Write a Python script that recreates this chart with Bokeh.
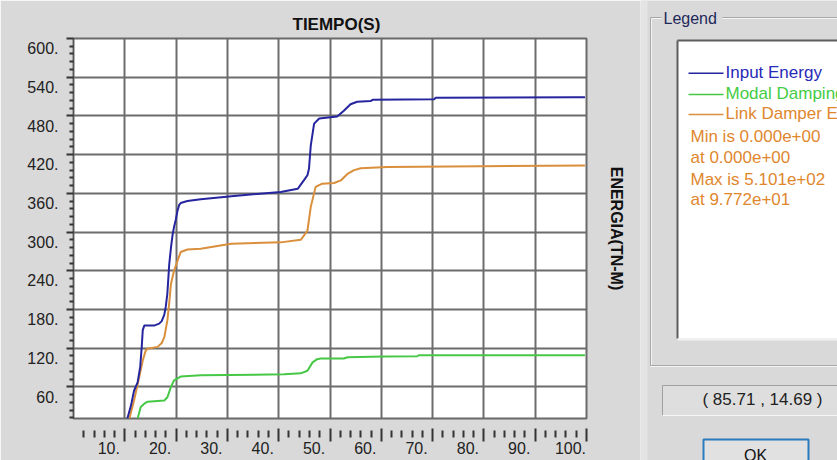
from bokeh.plotting import figure
from bokeh.models import FixedTicker, CustomJSTickFormatter, LinearAxis, Range1d
from bokeh.core.properties import value
from bokeh.embed import file_html
from bokeh.resources import INLINE

FONT = "Liberation Sans"
BG = "#d9d9d9"

# ---------------- data ----------------
series_names = ["Input Energy", "Modal Damping", "Link Damper Energy"]
series_colors = ["#25259f", "#46c846", "#d98f3c"]
legend_text_colors = ["#2a2ab8", "#44cc44", "#e0872e"]

t_input = [10.5, 11.2, 11.8, 12.5, 13.0, 13.3, 13.5, 13.8, 15.7, 16.7, 17.2, 17.7, 18.0, 18.3,
           18.66, 19.0, 19.3, 19.6, 19.96, 20.3, 20.6, 20.9, 22.2, 24.8, 31.3, 40.4, 43.7,
           44.9, 45.6, 45.9, 46.25, 46.9, 47.9, 51.4, 52.7, 54.0, 55.3, 57.9, 58.3, 70.3,
           70.6, 97.7, 99.7]
e_input = [11, 31, 54, 67, 91, 122, 148, 155, 155, 158, 162, 172, 185, 205,
           250, 276, 295, 308, 320, 334, 342, 345, 348, 351, 356, 362, 367,
           380, 388, 398, 434, 468, 476, 479, 488, 498, 502, 503, 505, 506,
           508, 509, 509]

t_modal = [12.5, 13.1, 13.8, 14.45, 17.7, 18.3, 19.0, 19.6, 20.9, 24.8, 41.05, 44.3,
           45.6, 46.6, 47.5, 48.2, 52.7, 53.4, 60.5, 67.0, 67.3, 99.7]
e_modal = [11, 29, 34, 37, 39, 44, 60, 70, 76, 78, 79.5, 81,
           85, 98, 103, 104, 104, 106, 107, 107.5, 109, 109]

t_link = [10.9, 11.8, 12.8, 13.5, 14.1, 14.45, 16.4, 17.2, 17.7, 18.3, 18.66, 19.0, 19.6,
          20.3, 20.9, 22.2, 24.8, 30.7, 40.4, 44.3, 45.6, 46.25, 47.2, 48.5, 50.8, 52.1,
          53.4, 54.7, 56.0, 61.2, 79.4, 99.7]
e_link = [11, 39, 75, 101, 117, 119, 122, 128, 137, 163, 190, 220, 240,
          256, 269, 273, 274, 282, 284, 288, 302, 339, 370, 375, 376, 380,
          390, 396, 399, 401, 402, 403]

x_ticks = [10, 20, 30, 40, 50, 60, 70, 80, 90, 100]
x_tick_labels = ["10.", "20.", "30.", "40.", "50.", "60.", "70.", "80.", "90.", "100."]
y_ticks = [60, 120, 180, 240, 300, 360, 420, 480, 540, 600]
y_tick_labels = ["60.", "120.", "180.", "240.", "300.", "360.", "420.", "480.", "540.", "600."]

x_minor = [v for v in range(2, 100, 2) if v % 10]
y_minor = [v for v in range(12, 600, 12) if v % 60]

title_text = "TIEMPO(S)"
ylabel_text = "ENERGIA(TN-M)"
legend_title = "Legend"
stats_lines = ["Min is 0.000e+00", "at 0.000e+00", "Max is 5.101e+02", "at 9.772e+01"]
cursor_text = "( 85.71 , 14.69 )"
button_text = "OK"

# ---------------- main chart ----------------
p = figure(width=640, height=460, x_range=Range1d(0, 100), y_range=Range1d(11, 600),
           output_backend="svg", toolbar_location=None,
           min_border_left=73, min_border_right=54, min_border_top=38, min_border_bottom=42,
           background_fill_color="white", border_fill_color=BG,
           outline_line_color="#6a6a6a", outline_line_width=2)

p.title.text = title_text
p.title.align = "left"
p.title.offset = 219
p.title.standoff = 10
p.title.text_font = FONT
p.title.text_font_size = "17px"
p.title.text_font_style = "bold"
p.title.text_color = "#111111"

p.grid.grid_line_color = "#6c6c6c"
p.grid.grid_line_width = 2

p.line(t_link, e_link, color=series_colors[2], line_width=2)
p.line(t_modal, e_modal, color=series_colors[1], line_width=2)
p.line(t_input, e_input, color=series_colors[0], line_width=2)

yax = p.yaxis[0]
yax.ticker = FixedTicker(ticks=y_ticks, minor_ticks=y_minor)
yax.formatter = CustomJSTickFormatter(
    args=dict(tk=y_ticks, lb=y_tick_labels),
    code="const i = tk.indexOf(tick); return i >= 0 ? '\\n' + lb[i] : '';")
yax.major_label_text_font = FONT
yax.major_label_text_font_size = "16px"
yax.major_label_text_color = "#222222"
yax.major_label_standoff = 8
yax.major_tick_in = 0
yax.major_tick_out = 7
yax.minor_tick_in = 0
yax.minor_tick_out = 4
yax.major_tick_line_color = "#333333"
yax.minor_tick_line_color = "#333333"
yax.major_tick_line_width = 2
yax.minor_tick_line_width = 2
yax.axis_line_color = "#555555"

xax = p.xaxis[0]
xax.ticker = FixedTicker(ticks=x_ticks, minor_ticks=x_minor)
xax.formatter = CustomJSTickFormatter(
    args=dict(tk=x_ticks, lb=x_tick_labels),
    code="const i = tk.indexOf(tick); return i >= 0 ? lb[i] + '\\u2003\\u2003' : '';")
xax.major_label_text_font = FONT
xax.major_label_text_font_size = "16px"
xax.major_label_text_color = "#222222"
xax.major_label_standoff = -2
xax.axis_line_color = None
xax.major_tick_in = -10
xax.major_tick_out = 23
xax.minor_tick_in = -12
xax.minor_tick_out = 19
xax.major_tick_line_color = "#333333"
xax.minor_tick_line_color = "#333333"
xax.major_tick_line_width = 2
xax.minor_tick_line_width = 2

rax = LinearAxis(ticker=FixedTicker(ticks=[]), axis_label=ylabel_text,
                 axis_label_text_font=FONT, axis_label_text_font_size="16px",
                 axis_label_text_font_style="bold", axis_label_text_color="#111111",
                 axis_label_standoff=21, axis_line_color=None,
                 major_tick_line_color=None, minor_tick_line_color=None,
                 major_tick_out=0, minor_tick_out=0, major_label_text_font_size="0px")
p.add_layout(rax, "right")

# ---------------- side panel (legend box, cursor box, button) ----------------
# separate root, placed at the right of the chart; its coordinates are window pixels
s = figure(width=197, height=460, x_range=Range1d(640, 837), y_range=Range1d(460, 0),
           x_axis_type=None, y_axis_type=None, output_backend="svg", toolbar_location=None,
           min_border=0, min_border_left=0, min_border_right=0, min_border_top=0,
           min_border_bottom=0, outline_line_color=None,
           background_fill_color=BG, border_fill_color=BG)
s.styles = {"position": "absolute", "left": "640px", "top": "0px"}

# lighter pane edge
s.quad(left=[640], right=[647], top=[0], bottom=[460], fill_color="#e4e4e4", line_color=None)

# group box (etched)
s.segment(x0=[650, 722, 650, 650], y0=[17, 17, 17, 365], x1=[661, 840, 650, 840], y1=[17, 17, 365, 365],
          line_color="#a8a8a8", line_width=1)
s.segment(x0=[651, 722, 651, 650], y0=[18, 18, 18, 366], x1=[661, 840, 651, 840], y1=[18, 18, 364, 366],
          line_color="#f4f4f4", line_width=1)
s.text(x=[663], y=[18], text=[legend_title], text_font=value(FONT), text_font_size=value("16px"),
       text_color="#1e2a5a", text_baseline="middle", text_align="left")

# legend inner white box (sunken)
s.quad(left=[677], right=[840], top=[40], bottom=[338], fill_color="white", line_color=None)
s.segment(x0=[677, 677], y0=[40, 40], x1=[840, 677], y1=[40, 338], line_color="#5e5e5e", line_width=2)
s.segment(x0=[677], y0=[339], x1=[840], y1=[339], line_color="#f2f2f2", line_width=2)

entry_y = [72.7, 94, 114]
s.segment(x0=[688] * 3, y0=entry_y, x1=[723] * 3, y1=entry_y, line_color=series_colors, line_width=1.5)
s.text(x=[725] * 3, y=[v - 1 for v in entry_y], text=series_names, text_font=value(FONT),
       text_font_size=value("17px"), text_color=legend_text_colors,
       text_baseline="middle", text_align="left")

stats_y = [136, 157, 178.5, 199]
s.text(x=[690] * 4, y=stats_y, text=stats_lines, text_font=value(FONT),
       text_font_size=value("17px"), text_color=legend_text_colors[2],
       text_baseline="middle", text_align="left")

# cursor coordinates box
s.quad(left=[662], right=[840], top=[385], bottom=[415], fill_color="#dedede", line_color=None)
s.segment(x0=[662, 662], y0=[385, 385], x1=[840, 662], y1=[385, 415], line_color="#a0a0a0", line_width=1)
s.segment(x0=[662], y0=[415], x1=[840], y1=[415], line_color="#f6f6f6", line_width=1)
s.text(x=[762], y=[399], text=[cursor_text], text_font=value(FONT), text_font_size=value("17px"),
       text_color="#222222", text_baseline="middle", text_align="center")

# OK button
s.quad(left=[703], right=[808], top=[439], bottom=[480], fill_color="#e1e1e1",
       line_color="#2b7bbd", line_width=2)
s.text(x=[755], y=[455], text=[button_text], text_font=value(FONT), text_font_size=value("16px"),
       text_color="#111111", text_baseline="middle", text_align="center")

open("out.html", "w").write(file_html([p, s], INLINE))
